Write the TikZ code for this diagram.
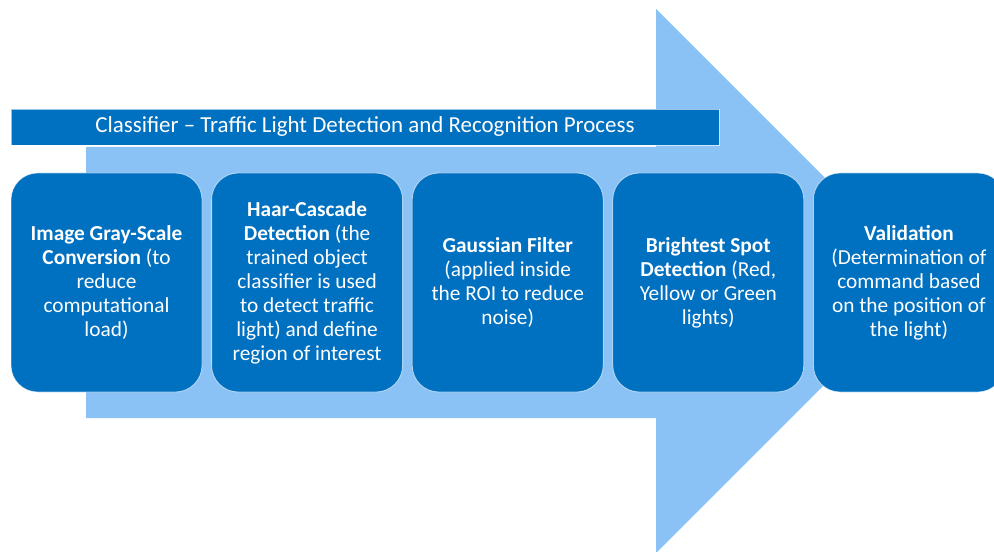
\documentclass[tikz,border=0pt]{standalone}
\usepackage{fontspec}
\setmainfont{Carlito}
\usepackage{xcolor}
\usepackage{tikz}
\usetikzlibrary{positioning}
\definecolor{stepblue}{RGB}{0,112,192}
\definecolor{arrowblue}{RGB}{138,194,245}

\begin{document}
\begin{tikzpicture}[
      x=0.75pt, y=-0.75pt,
      node distance=7.2pt,
      every node/.style={text=white, font=\fontsize{16}{18}\selectfont, align=center, inner sep=0pt, outer sep=0pt},
      stepbox/.style={rectangle, rounded corners=20pt, fill=stepblue, draw=white, draw opacity=0.6, line width=0.6pt, minimum width=143.25pt, minimum height=164.25pt},
      titlebar/.style={rectangle, fill=stepblue, draw=white, draw opacity=0.6, line width=0.6pt, minimum width=531pt, minimum height=27pt, font=\fontsize{17.2}{20}\selectfont}
    ]
      \clip (0,0) rectangle (994,552);
      \useasboundingbox (0,0) rectangle (994,552);

      % big arrow behind the steps
      \fill[arrowblue] (86,147) -- (656,147) -- (656,9) -- (928,281) -- (656,553) -- (656,418) -- (86,418) -- cycle;

      \node[titlebar] (title) at (365,127) {Classifier – Traffic Light Detection and Recognition Process};

      \node[stepbox] (gray) at (106.5,282.5) {\textbf{Image Gray-Scale}\\\textbf{Conversion} (to\\reduce\\computational\\load)};
      \node[stepbox, right=of gray] (haar) {\textbf{Haar-Cascade}\\\textbf{Detection} (the\\trained object\\classifier is used\\to detect traffic\\light) and define\\region of interest};
      \node[stepbox, right=of haar] (gauss) {\textbf{Gaussian Filter}\\(applied inside\\the ROI to reduce\\noise)};
      \node[stepbox, right=of gauss] (bright) {\textbf{Brightest Spot}\\\textbf{Detection} (Red,\\Yellow or Green\\lights)};
      \node[stepbox, right=of bright] (valid) {\textbf{Validation}\\(Determination of\\command based\\on the position of\\the light)};
    \end{tikzpicture}
\end{document}
